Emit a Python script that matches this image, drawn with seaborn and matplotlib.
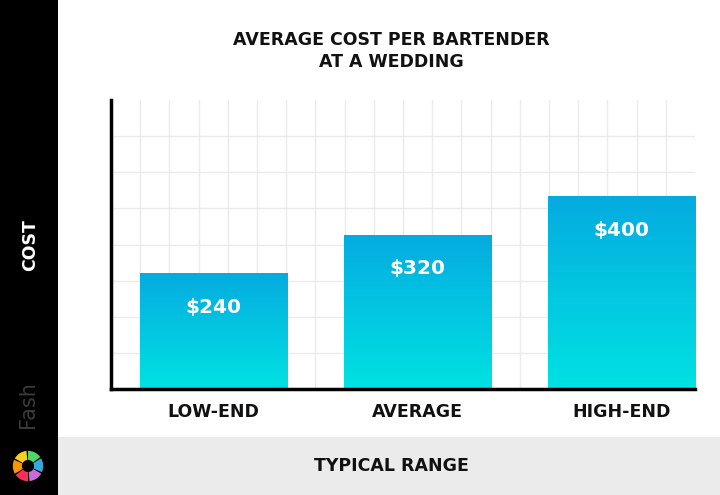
import numpy as np
import pandas as pd
import matplotlib
matplotlib.use("Agg")
import matplotlib.pyplot as plt
import seaborn as sns
from matplotlib.patches import Rectangle, Wedge, Circle
from matplotlib.colors import LinearSegmentedColormap

categories = ["LOW-END", "AVERAGE", "HIGH-END"]
costs = [240, 320, 400]
value_labels = ["$240", "$320", "$400"]
title = "AVERAGE COST PER BARTENDER\nAT A WEDDING"
x_title = "TYPICAL RANGE"
y_title = "COST"

df = pd.DataFrame({"range": categories, "cost": costs})

sns.set_theme(style="white")
plt.rcParams["font.family"] = ["DejaVu Sans"]

W, H = 720, 495
fig = plt.figure(figsize=(W / 100, H / 100), dpi=100)
fig.patch.set_facecolor("white")

# background decorations
fig.add_artist(Rectangle((0, 0), 58 / W, 1, transform=fig.transFigure,
                         facecolor="black", edgecolor="none", zorder=0))
fig.add_artist(Rectangle((58 / W, 0), 1, 58 / H, transform=fig.transFigure,
                         facecolor="#ebebeb", edgecolor="none", zorder=0))

ax = fig.add_axes([111 / W, (H - 389) / H, (695 - 111) / W, (389 - 100) / H])
ax.set_facecolor("white")

sns.barplot(data=df, x="range", y="cost", ax=ax, width=0.72,
            color="#00b8e0", saturation=1, edgecolor="none", zorder=2)

# gradient fill for each bar
cmap = LinearSegmentedColormap.from_list("grad", ["#00e2e2", "#05abe0"])
grad = np.linspace(0, 1, 256).reshape(-1, 1)
for p in ax.patches:
    x0, y0 = p.get_x(), p.get_y()
    w, h = p.get_width(), p.get_height()
    im = ax.imshow(grad, cmap=cmap, aspect="auto", origin="lower",
                   extent=[x0, x0 + w, y0, y0 + h], zorder=3)
    im.set_clip_path(p)

ax.set_xlim(-0.5, 2.36)
ax.set_ylim(0, 600)

# value labels
for i, (v, lab) in enumerate(zip(costs, value_labels)):
    ax.annotate(lab, (i, v), xytext=(0, -34), textcoords="offset pixels",
                ha="center", va="center", color="white",
                fontsize=14.5, fontweight="bold", zorder=5)

# grid
ax.grid(False)
for yv in np.arange(75, 600, 75):
    ax.axhline(yv, color="#ebebeb", lw=1, zorder=1)
for xv in np.arange(-0.5 + 2.86 / 20, 2.36, 2.86 / 20):
    ax.axvline(xv, color="#ebebeb", lw=1, zorder=1)

for s in ["top", "right"]:
    ax.spines[s].set_visible(False)
for s in ["left", "bottom"]:
    ax.spines[s].set_color("black")
    ax.spines[s].set_linewidth(2.5)
    ax.spines[s].set_zorder(6)

ax.set_yticks([])
ax.set_xticks(range(len(categories)))
ax.set_xticklabels(categories, fontsize=12.5, fontweight="bold", color="#111111")
ax.tick_params(axis="x", length=0, pad=10)
ax.set_xlabel("")
ax.set_ylabel("")

fig.text(391 / W, 1 - 51 / H, title, ha="center", va="center",
         fontsize=12.5, fontweight="bold", color="#111111", linespacing=1.35)
fig.text(391 / W, 1 - 466 / H, x_title, ha="center", va="center",
         fontsize=12.5, fontweight="bold", color="#111111")
fig.text(30 / W, 1 - 245 / H, y_title, ha="center", va="center", rotation=90,
         fontsize=12.5, fontweight="bold", color="white")

# brand mark
fig.text(28 / W, 1 - 405 / H, "Fash", ha="center", va="center", rotation=90,
         fontsize=15, color="#3a3a3a")
cx, cy, r = 28, H - 466, 16
lax = fig.add_axes([(cx - r) / W, (cy - r) / H, 2 * r / W, 2 * r / H])
lax.set_xlim(-1, 1)
lax.set_ylim(-1, 1)
lax.axis("off")
cols = ["#34aadc", "#4cd964", "#f5d023", "#ff9500", "#ff2d55", "#c86dd7"]
for k, c in enumerate(cols):
    lax.add_patch(Wedge((0, 0), 0.95, 60 * k - 30 + 6, 60 * k + 30,
                        facecolor=c, edgecolor="none"))
lax.add_patch(Circle((0, 0), 0.38, facecolor="black", edgecolor="none"))

fig.savefig("out.png", dpi=100, facecolor=fig.get_facecolor())
